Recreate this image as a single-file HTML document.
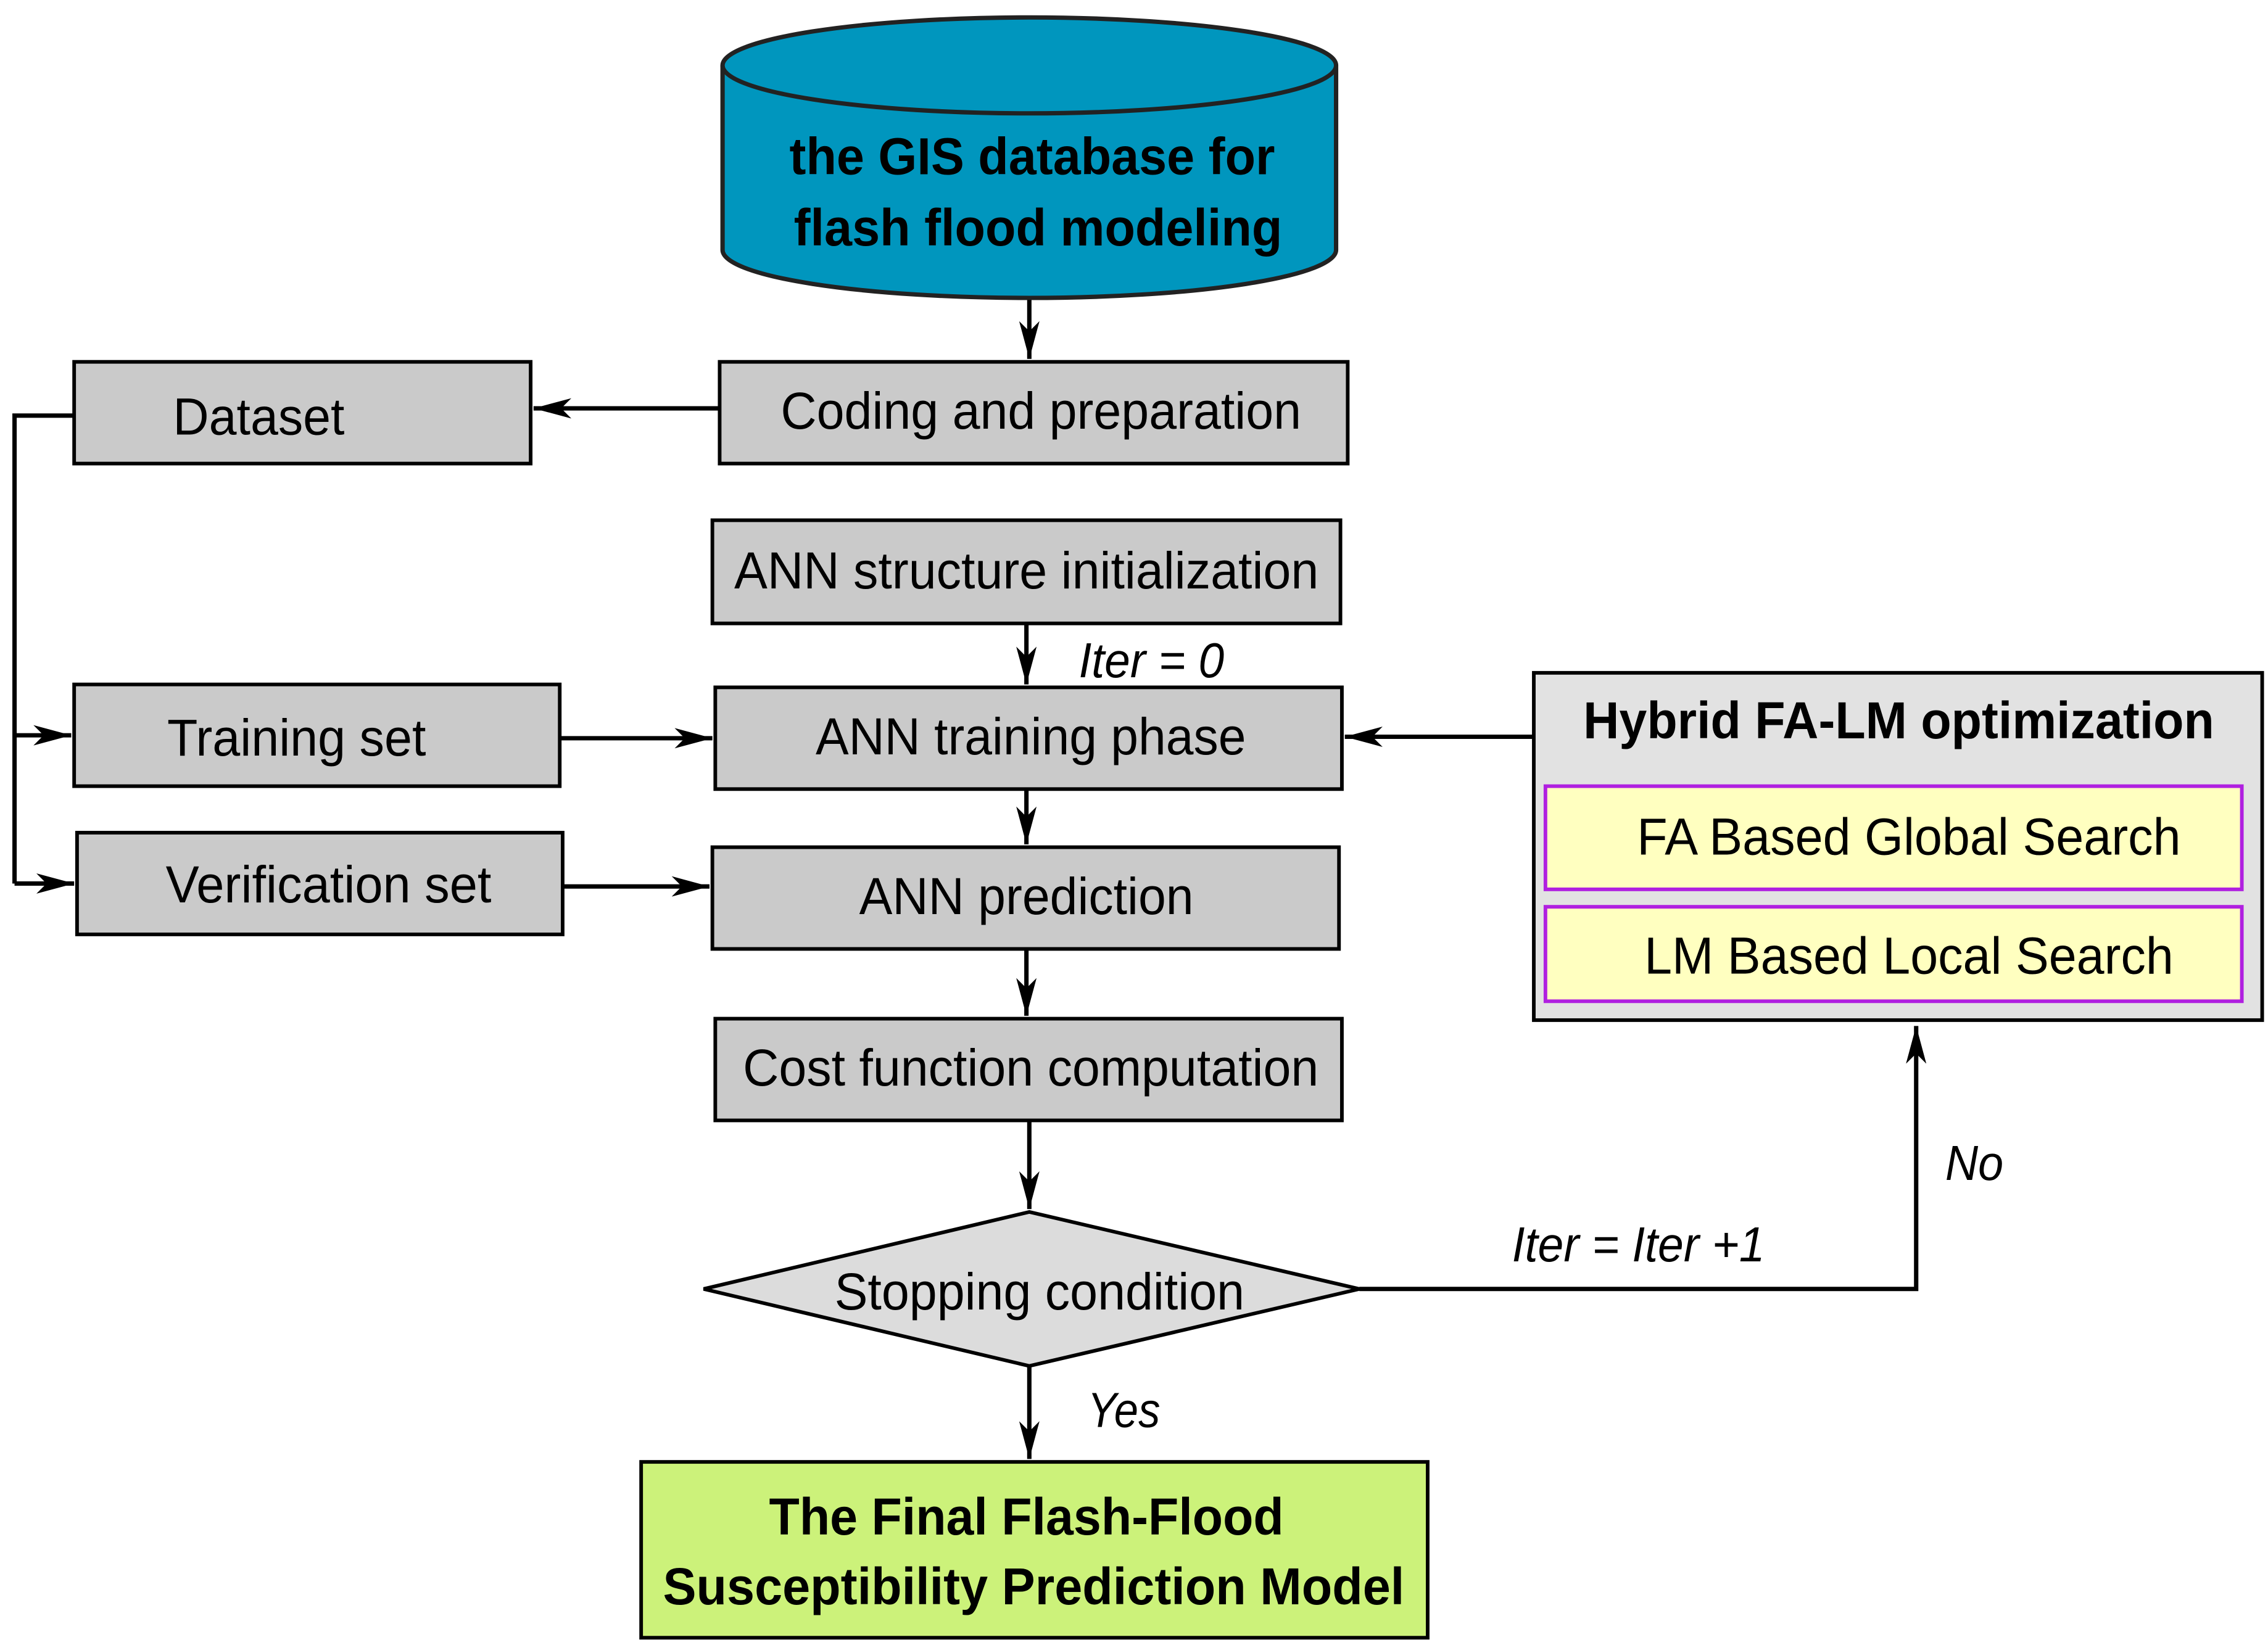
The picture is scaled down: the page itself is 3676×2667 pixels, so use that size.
<!DOCTYPE html>
<html><head><meta charset="utf-8"><style>html,body{margin:0;padding:0;background:#fff}svg{display:block}text{font-family:"Liberation Sans",Arial,sans-serif}</style></head>
<body>
<svg width="3676" height="2667" viewBox="0 0 1560 1132" preserveAspectRatio="none" xmlns="http://www.w3.org/2000/svg">
<defs>
<marker id="a" viewBox="0 0 26 14" refX="26" refY="7" markerWidth="26" markerHeight="14" markerUnits="userSpaceOnUse" orient="auto">
<path d="M0,0 L26,7 L0,14 L7,7 Z" fill="#000"/></marker>
</defs>
<g stroke="#000" stroke-width="3" fill="none">
<line x1="708" y1="205" x2="708" y2="247" marker-end="url(#a)"/>
<line x1="495" y1="281" x2="367" y2="281" marker-end="url(#a)"/>
<polyline points="51,286 10,286 10,608"/>
<line x1="10" y1="506" x2="49" y2="506" marker-end="url(#a)"/>
<line x1="10" y1="608" x2="51" y2="608" marker-end="url(#a)"/>
<line x1="385" y1="508" x2="490" y2="508" marker-end="url(#a)"/>
<line x1="387" y1="610" x2="488" y2="610" marker-end="url(#a)"/>
<line x1="706" y1="429" x2="706" y2="471" marker-end="url(#a)"/>
<line x1="706" y1="543" x2="706" y2="581" marker-end="url(#a)"/>
<line x1="706" y1="653" x2="706" y2="699" marker-end="url(#a)"/>
<line x1="708" y1="771" x2="708" y2="832" marker-end="url(#a)"/>
<line x1="708" y1="940" x2="708" y2="1004" marker-end="url(#a)"/>
<polyline points="935,887 1318,887 1318,706" marker-end="url(#a)"/>
<line x1="1055" y1="507" x2="925" y2="507" marker-end="url(#a)"/>
</g>
<path d="M497,45 L497,172 A211,33 0 0 0 919,172 L919,45" fill="#0096be" stroke="#222" stroke-width="3"/>
<ellipse cx="708" cy="45" rx="211" ry="33" fill="#0096be" stroke="#222" stroke-width="3"/>
<text x="710" y="120" font-size="36" font-weight="bold" text-anchor="middle" textLength="334" lengthAdjust="spacingAndGlyphs">the GIS database for</text>
<text x="714" y="169" font-size="36" font-weight="bold" text-anchor="middle" textLength="336" lengthAdjust="spacingAndGlyphs">flash flood modeling</text>
<g fill="#cacaca" stroke="#000" stroke-width="2.5">
<rect x="51" y="249" width="314" height="70"/>
<rect x="495" y="249" width="432" height="70"/>
<rect x="490" y="358" width="432" height="71"/>
<rect x="51" y="471" width="334" height="70"/>
<rect x="492" y="473" width="431" height="70"/>
<rect x="53" y="573" width="334" height="70"/>
<rect x="490" y="583" width="431" height="70"/>
<rect x="492" y="701" width="431" height="70"/>
</g>
<polygon points="484,887 708,834 935,887 708,940" fill="#dcdcdc" stroke="#000" stroke-width="2.5"/>
<rect x="441" y="1006" width="541" height="121" fill="#ccf27a" stroke="#000" stroke-width="2.5"/>
<rect x="1055" y="463" width="501" height="239" fill="#e2e2e2" stroke="#000" stroke-width="2.5"/>
<rect x="1063" y="541" width="479" height="71" fill="#ffffc0" stroke="#b020e0" stroke-width="2.5"/>
<rect x="1063" y="624" width="479" height="65" fill="#ffffc0" stroke="#b020e0" stroke-width="2.5"/>
<g font-size="36" text-anchor="middle">
<text x="178" y="299" textLength="118" lengthAdjust="spacingAndGlyphs">Dataset</text>
<text x="716" y="295" textLength="358" lengthAdjust="spacingAndGlyphs">Coding and preparation</text>
<text x="706" y="405" textLength="402" lengthAdjust="spacingAndGlyphs">ANN structure initialization</text>
<text x="204" y="520" textLength="178" lengthAdjust="spacingAndGlyphs">Training set</text>
<text x="709" y="519" textLength="296" lengthAdjust="spacingAndGlyphs">ANN training phase</text>
<text x="226" y="621" textLength="224" lengthAdjust="spacingAndGlyphs">Verification set</text>
<text x="706" y="629" textLength="230" lengthAdjust="spacingAndGlyphs">ANN prediction</text>
<text x="709" y="747" textLength="396" lengthAdjust="spacingAndGlyphs">Cost function computation</text>
<text x="715" y="901" textLength="282" lengthAdjust="spacingAndGlyphs">Stopping condition</text>
<text x="1313" y="588" textLength="374" lengthAdjust="spacingAndGlyphs">FA Based Global Search</text>
<text x="1313" y="670" textLength="364" lengthAdjust="spacingAndGlyphs">LM Based Local Search</text>
<text x="1306" y="508" font-weight="bold" textLength="434" lengthAdjust="spacingAndGlyphs">Hybrid FA-LM optimization</text>
<text x="706" y="1056" font-weight="bold" textLength="354" lengthAdjust="spacingAndGlyphs">The Final Flash-Flood</text>
<text x="711" y="1104" font-weight="bold" textLength="510" lengthAdjust="spacingAndGlyphs">Susceptibility Prediction Model</text>
</g>
<g font-size="34" font-style="italic">
<text x="742" y="466" textLength="100" lengthAdjust="spacingAndGlyphs">Iter = 0</text>
<text x="748" y="982" textLength="50" lengthAdjust="spacingAndGlyphs">Yes</text>
<text x="1040" y="868" textLength="174" lengthAdjust="spacingAndGlyphs">Iter = Iter +1</text>
<text x="1338" y="812" textLength="40" lengthAdjust="spacingAndGlyphs">No</text>
</g>
</svg>
</body></html>
